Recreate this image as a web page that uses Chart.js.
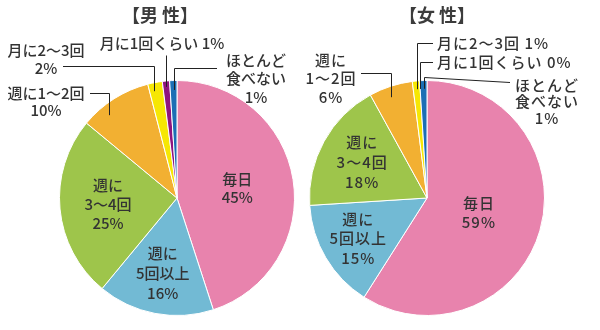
<!DOCTYPE html>
<html>
<head>
<meta charset="utf-8">
<script src="https://cdn.jsdelivr.net/npm/chart.js@4.4.0/dist/chart.umd.min.js"></script>
<style>
  html, body { margin: 0; padding: 0; background: #fff; }
  #wrap { position: relative; width: 600px; height: 330px; }
  canvas { position: absolute; top: 0; }
</style>
</head>
<body>
<div id="wrap">
  <canvas id="maleChart" width="300" height="330" style="left:0"></canvas>
  <canvas id="femaleChart" width="300" height="330" style="left:300px"></canvas>
</div>
<script>
const categories = ['毎日', '週に5回以上', '週に3～4回', '週に1～2回', '月に2～3回', '月に1回くらい', 'ほとんど食べない'];
const maleValues = [45, 16, 25, 10, 2, 1, 1];
const femaleValues = [59, 15, 18, 6, 1, 0, 1];
const sliceColors = ['#E883AD', '#72BAD4', '#9EC54B', '#F2B032', '#F6E703', '#8F147F', '#1C6FB5'];

const FONT = '"Noto Sans CJK JP", "Noto Sans", sans-serif';
const TEXT = '#333333';

// labels: inside ones sit on the slice's mid angle, outside ones get a leader line
const maleLabels = {
    title: { text: '【男 性】', x: 160, y: 15 },
    spacing: '0px',
    inside: [
        { slice: 0, k: 0.52, lh: 18, lines: ['毎日', '45%'] },
        { slice: 1, k: 0.65, lh: 20, lines: ['週に', '5回以上', '16%'] },
        { slice: 2, k: 0.59, lh: 19, lines: ['週に', '3～4回', '25%'] }
    ],
    outside: [
        { slice: 3, t: 0.31, k: 0.91, elbowY: 93, endX: 90, endY: 93, tx: 46, ty: 93, lh: 17, align: 'center', lines: ['週に1～2回', '10%'] },
        { slice: 4, t: 0.3, k: 0.93, elbowY: 66, endX: 63, endY: 66, tx: 46, ty: 50, lh: 18, align: 'center', lines: ['月に2～3回', '2%'] },
        { slice: 5, t: 0.5, k: 0.95, elbowY: 55, endX: null, tx: 162, ty: 43, lh: 18, align: 'center', lines: ['月に1回くらい 1%'] },
        { slice: 6, t: 0.5, k: 0.92, elbowY: 68, endX: 217, endY: 68, tx: 256, ty: 60, lh: 18.5, align: 'center', lines: ['ほとんど', '食べない', '1%'] }
    ]
};

const femaleLabels = {
    title: { text: '【女 性】', x: 137, y: 15 },
    spacing: '1px',
    inside: [
        { slice: 0, k: 0.46, lh: 19, lines: ['毎日', '59%'] },
        { slice: 1, k: 0.68, lh: 19.5, lines: ['週に', '5回以上', '15%'] },
        { slice: 2, k: 0.63, lh: 20, lines: ['週に', '3～4回', '18%'] }
    ],
    outside: [
        { slice: 3, t: 0.43, k: 0.91, elbowY: 73, endX: 61, endY: 73, tx: 31, ty: 60, lh: 18.5, align: 'center', lines: ['週に', '1～2回', '6%'] },
        { slice: 4, t: 0.5, k: 0.93, elbowY: 43, endX: 133, endY: 43, tx: 137, ty: 43, lh: 18, align: 'left', lines: ['月に2～3回 1%'] },
        { slice: 5, t: 0.5, k: 0.93, elbowY: 62, endX: 133, endY: 62, tx: 137, ty: 62, lh: 18, align: 'left', lines: ['月に1回くらい 0%'] },
        { slice: 6, t: 0.5, k: 0.93, elbowY: 77, endX: 210, endY: 82, tx: 247, ty: 85, lh: 16.5, align: 'center', lines: ['ほとんど', '食べない', '1%'] }
    ]
};

const labelPlugin = {
    id: 'pieLabels',
    afterDatasetsDraw(chart, args, opts) {
        const cfg = opts.cfg;
        const ctx = chart.ctx;
        const arcs = chart.getDatasetMeta(0).data;
        ctx.save();
        ctx.textBaseline = 'middle';

        // title
        ctx.fillStyle = '#3c3c3c';
        ctx.font = 'bold 18px ' + FONT;
        ctx.textAlign = 'center';
        ctx.fillText(cfg.title.text, cfg.title.x, cfg.title.y);

        ctx.letterSpacing = cfg.spacing;
        ctx.font = '500 15px ' + FONT;
        ctx.fillStyle = TEXT;

        cfg.inside.forEach(l => {
            const a = arcs[l.slice];
            const mid = (a.startAngle + a.endAngle) / 2;
            const cx = a.x + Math.cos(mid) * a.outerRadius * l.k;
            const cy = a.y + Math.sin(mid) * a.outerRadius * l.k;
            const y0 = cy - (l.lines.length - 1) * l.lh / 2;
            ctx.textAlign = 'center';
            l.lines.forEach((s, i) => ctx.fillText(s, cx, y0 + i * l.lh));
        });

        cfg.outside.forEach(l => {
            const a = arcs[l.slice];
            const ang = a.startAngle + (a.endAngle - a.startAngle) * l.t;
            const ax = Math.round(a.x + Math.cos(ang) * a.outerRadius * l.k) + 0.5;
            const ay = a.y + Math.sin(ang) * a.outerRadius * l.k;
            ctx.strokeStyle = '#222';
            ctx.lineWidth = 1;
            ctx.beginPath();
            ctx.moveTo(ax, ay);
            ctx.lineTo(ax, l.elbowY + 0.5);
            if (l.endX !== null) ctx.lineTo(l.endX, l.endY + 0.5);
            ctx.stroke();
            ctx.textAlign = l.align;
            l.lines.forEach((s, i) => ctx.fillText(s, l.tx, l.ty + i * l.lh));
        });
        ctx.restore();
    }
};

function makePie(id, values, labels, padding) {
    return new Chart(document.getElementById(id).getContext('2d'), {
        type: 'pie',
        data: {
            labels: categories,
            datasets: [{
                data: values,
                backgroundColor: sliceColors,
                borderColor: '#ffffff',
                borderWidth: 1,
                hoverOffset: 0
            }]
        },
        options: {
            responsive: false,
            animation: false,
            events: [],
            layout: { padding: padding },
            plugins: {
                legend: { display: false },
                tooltip: { enabled: false },
                pieLabels: { cfg: labels }
            }
        },
        plugins: [labelPlugin]
    });
}

makePie('maleChart', maleValues, maleLabels, { left: 59, right: 5, top: 80, bottom: 14 });
makePie('femaleChart', femaleValues, femaleLabels, { left: 9, right: 55, top: 80, bottom: 14 });
</script>
</body>
</html>
